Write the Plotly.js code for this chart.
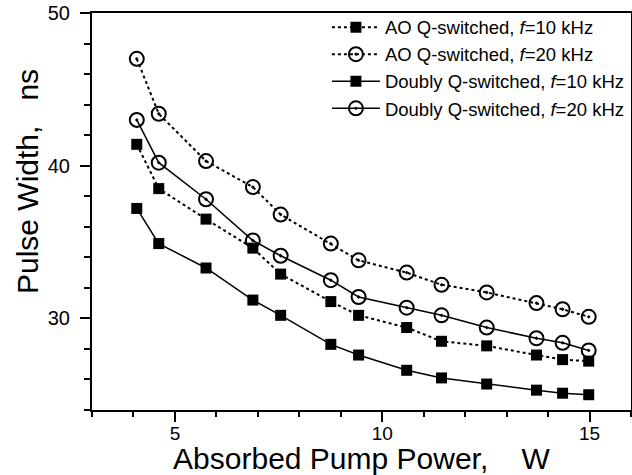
<!DOCTYPE html>
<html>
<head>
<meta charset="utf-8">
<script src="https://cdn.plot.ly/plotly-3.0.1.min.js"></script>
<style>html,body{margin:0;padding:0;background:#fff;}#chart{width:632px;height:475px;}</style>
</head>
<body>
<div id="chart"></div>
<script>
const power = [4.08, 4.61, 5.75, 6.88, 7.55, 8.76, 9.43, 10.59, 11.43, 12.52, 13.72, 14.35, 14.98];
const aoQ10 = [41.4, 38.5, 36.5, 34.6, 32.9, 31.1, 30.2, 29.4, 28.5, 28.2, 27.6, 27.3, 27.2];
const aoQ20 = [47.0, 43.4, 40.3, 38.6, 36.8, 34.9, 33.8, 33.0, 32.2, 31.7, 31.0, 30.6, 30.1];
const dqs10 = [37.2, 34.9, 33.3, 31.2, 30.2, 28.3, 27.6, 26.6, 26.1, 25.7, 25.3, 25.1, 25.0];
const dqs20 = [43.0, 40.2, 37.8, 35.1, 34.1, 32.5, 31.4, 30.7, 30.2, 29.4, 28.7, 28.4, 27.9];
const names = [
  "AO Q-switched, <i>f</i>=10 kHz",
  "AO Q-switched, <i>f</i>=20 kHz",
  "Doubly Q-switched, <i>f</i>=10 kHz",
  "Doubly Q-switched, <i>f</i>=20 kHz"
];
const xTitle = "\u00a0\u00a0\u00a0Absorbed Pump Power,\u00a0\u00a0\u00a0\u00a0W";
const yTitle = "Pulse Width,\u00a0\u00a0\u00a0ns";

const font = "Arial, 'Liberation Sans', sans-serif";
const sq = {symbol: 'square', size: 11, color: '#000'};
const circ = {symbol: 'circle-open-dot', size: 14, color: '#000', line: {width: 2, color: '#000'}};

const traces = [
  {x: power, y: aoQ10, name: names[0], mode: 'lines+markers', line: {color: '#000', width: 2, dash: 'dot'}, marker: sq},
  {x: power, y: aoQ20, name: names[1], mode: 'lines+markers', line: {color: '#000', width: 2, dash: 'dot'}, marker: circ},
  {x: power, y: dqs10, name: names[2], mode: 'lines+markers', line: {color: '#000', width: 1.5}, marker: sq},
  {x: power, y: dqs20, name: names[3], mode: 'lines+markers', line: {color: '#000', width: 1.5}, marker: circ}
];

const layout = {
  width: 632, height: 475,
  margin: {l: 92, r: 1, t: 13, b: 65},
  paper_bgcolor: '#fff', plot_bgcolor: '#fff',
  font: {family: font, color: '#000'},
  showlegend: true,
  legend: {x: 0.998, xanchor: 'right', y: 1.011, yanchor: 'top', font: {size: 18.5, family: font},
           bgcolor: 'rgba(0,0,0,0)', itemwidth: 48, tracegroupgap: 0},
  xaxis: {
    range: [3, 16], dtick: 5, tick0: 0, ticks: 'outside', ticklen: 10, tickwidth: 2, tickcolor: '#000',
    showline: true, linewidth: 2, linecolor: '#000', mirror: true, showgrid: false, zeroline: false,
    tickfont: {size: 19, family: font}, ticklabelstandoff: -5,
    minor: {dtick: 1, tick0: 0, ticks: 'outside', ticklen: 5, tickwidth: 2, tickcolor: '#000', showgrid: false},
    title: {text: xTitle, font: {size: 30, family: font}, standoff: 7}
  },
  yaxis: {
    range: [24, 50], dtick: 10, tick0: 0, ticks: 'outside', ticklen: 10, tickwidth: 2, tickcolor: '#000',
    showline: true, linewidth: 2, linecolor: '#000', mirror: true, showgrid: false, zeroline: false,
    tickfont: {size: 20, family: font}, ticklabelstandoff: 6,
    minor: {dtick: 2, tick0: 0, ticks: 'outside', ticklen: 6, tickwidth: 2, tickcolor: '#000', showgrid: false}
  },
  annotations: [{
    text: yTitle, textangle: -90, showarrow: false,
    xref: 'paper', yref: 'paper', x: -0.1206, y: 0.5768, xanchor: 'center', yanchor: 'middle',
    font: {size: 30, family: font, color: '#000'}
  }]
};

Plotly.newPlot('chart', traces, layout, {displayModeBar: false, staticPlot: true}).then((gd) => {
  const svgs = gd.querySelectorAll('svg.main-svg');
  const top = svgs[svgs.length - 1];
  const g = document.createElementNS('http://www.w3.org/2000/svg', 'g');
  top.appendChild(g);
  gd.querySelectorAll('path.xtick.ticks, path.ytick.ticks').forEach((p) => {
    const c = p.cloneNode(true);
    const m = p.getCTM();
    if (m) c.setAttribute('transform', `matrix(${m.a},${m.b},${m.c},${m.d},${m.e},${m.f})`);
    c.style.stroke = '#000';
    c.style.strokeWidth = '2px';
    c.style.strokeOpacity = '1';
    g.appendChild(c);
  });
});
</script>
</body>
</html>
